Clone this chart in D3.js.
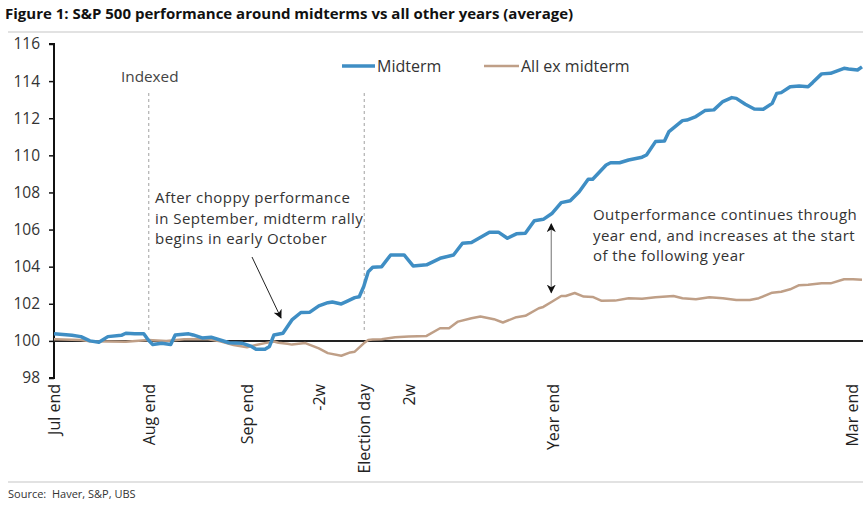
<!DOCTYPE html>
<html><head><meta charset="utf-8">
<script src="https://cdn.jsdelivr.net/npm/d3@7/dist/d3.min.js"></script>
<style>
body{margin:0;background:#fff;}
svg{display:block;font-family:"Open Sans",sans-serif;}
</style></head>
<body><svg id="c" width="863" height="514"></svg>
<script>
// ---- data (x in trading days from end of July) ----
const tickDays   = [0, 21, 43, 59, 69, 79, 111, 180];
const tickLabels = ["Jul end","Aug end","Sep end","-2w","Election day","2w","Year end","Mar end"];
const yTicks = [98,100,102,104,106,108,110,112,114,116];

const midDays = [0,4,6,8,10,12,15,16,18,20,21,22,24,26,27,30,31,33,35,37,39,42,44,45,47,48,49,51,53,55,57,59,61,62,64,65,67,68,69,70,71,73,75,78,80,83,86,89,91,93,97,99,101,103,105,107,109,111,113,115,117,119,120,123,124,126,128,131,132,134,136,137,140,141,143,145,147,149,151,152,154,156,158,160,161,162,164,166,168,169,171,173,176,177,179,180];
const midVals = [100.38,100.30,100.23,100.00,99.93,100.23,100.30,100.41,100.38,100.38,100.05,99.80,99.87,99.80,100.32,100.38,100.32,100.16,100.20,100.05,99.90,99.87,99.70,99.55,99.55,99.70,100.32,100.41,101.13,101.53,101.55,101.89,102.06,102.10,101.99,102.10,102.33,102.38,102.93,103.73,103.97,104.00,104.63,104.63,104.04,104.10,104.45,104.63,105.26,105.30,105.86,105.86,105.53,105.77,105.80,106.48,106.55,106.88,107.45,107.55,108.04,108.71,108.71,109.48,109.60,109.60,109.75,109.90,110.02,110.74,110.77,111.28,111.87,111.90,112.09,112.41,112.45,112.90,113.11,113.07,112.75,112.50,112.48,112.80,113.34,113.38,113.70,113.74,113.70,113.92,114.39,114.42,114.69,114.65,114.60,114.77];

const allDays = [0,6,8,12,16,21,25,29,34,37,40,42,43,45,47,49,50,52,53,56,59,61,64,66,67,69,70,71,73,76,79,83,86,88,90,93,95,98,100,103,105,108,109,111,113,114,116,118,120,122,125,128,131,134,138,140,143,146,149,152,155,157,160,162,164,166,168,171,173,176,178,180];
const allVals = [100.09,100.05,99.98,99.97,99.95,100.05,100.00,100.09,100.10,99.98,99.78,99.70,99.66,99.78,99.88,99.97,99.90,99.85,99.80,99.88,99.60,99.34,99.20,99.38,99.42,99.87,100.05,100.07,100.09,100.20,100.23,100.27,100.68,100.68,101.04,101.22,101.31,101.17,100.99,101.28,101.35,101.76,101.83,102.12,102.42,102.42,102.58,102.39,102.37,102.16,102.17,102.30,102.27,102.35,102.42,102.30,102.25,102.35,102.30,102.20,102.20,102.30,102.60,102.65,102.78,103.00,103.02,103.10,103.10,103.32,103.32,103.29];

const seriesNames = ["Midterm","All ex midterm"];
const colors = ["#3f8ec4","#bf9f87"];
const titleText = "Figure 1: S&P 500 performance around midterms vs all other years (average)";
const sourceText = "Source:  Haver, S&P, UBS";
const note1 = ["After choppy performance","in September, midterm rally","begins in early October"];
const note2 = ["Outperformance continues through","year end, and increases at the start","of the following year"];

// ---- drawing ----
const svg = d3.select("#c");
const x = d3.scaleLinear().domain([0,180]).range([54,862]);
const y = d3.scaleLinear().domain([98,116]).range([378,44]);

svg.append("text").attr("x",5).attr("y",19).attr("font-weight","bold").attr("font-size",15)
  .attr("fill","#111").text(titleText);
svg.append("line").attr("x1",8).attr("x2",863).attr("y1",32).attr("y2",32).attr("stroke","#d9d9d9").attr("stroke-width",1.5);
svg.append("line").attr("x1",8).attr("x2",863).attr("y1",482).attr("y2",482).attr("stroke","#d9d9d9").attr("stroke-width",1.5);
svg.append("text").attr("x",8).attr("y",498).attr("font-size",11).attr("fill","#333").attr("xml:space","preserve").text(sourceText);

// y axis
const ya = svg.append("g").attr("transform","translate(54,0)")
  .call(d3.axisLeft(y).tickValues(yTicks).tickSize(5).tickPadding(9).tickFormat(d3.format("d")));
ya.select(".domain").attr("stroke","#111").attr("stroke-width",2).attr("d","M-5,44H0V378H-5");
ya.selectAll(".tick line").attr("stroke","#111").attr("stroke-width",1.5);
ya.selectAll(".tick text").attr("font-size",15.5).attr("fill","#333").attr("font-family","Open Sans, sans-serif");

// x labels
const xa = svg.append("g").attr("transform","translate(0,384)")
  .call(d3.axisBottom(x).tickValues(tickDays).tickSize(0).tickFormat((d,i)=>tickLabels[i]));
xa.select(".domain").remove();
xa.selectAll(".tick text").attr("font-size",16).attr("fill","#222").attr("font-family","Open Sans, sans-serif")
  .attr("text-anchor","end").attr("transform","rotate(-90)").attr("x",0).attr("y",0).attr("dy","0.36em");
// keep the last label (at the right edge) inside the picture
xa.selectAll(".tick").filter((d,i)=>i===tickDays.length-1).select("text").attr("dy","-0.3em");

// 100 baseline
svg.append("line").attr("x1",x(0)).attr("x2",863).attr("y1",y(100)).attr("y2",y(100)).attr("stroke","#222").attr("stroke-width",2);

// dashed verticals
[21,69].forEach(d=>{
  svg.append("line").attr("x1",x(d)+0.5).attr("x2",x(d)+0.5).attr("y1",93).attr("y2",330)
    .attr("stroke","#a0a0a0").attr("stroke-width",1).attr("stroke-dasharray","3,3");
});
svg.append("text").attr("x",121).attr("y",82).attr("font-size",15.3).attr("fill","#444").text("Indexed");

// lines
const line = d3.line().x(d=>x(d[0])).y(d=>y(d[1]));
const allData = allDays.map((d,i)=>[d,allVals[i]]);
const midData = midDays.map((d,i)=>[d,midVals[i]]);
svg.append("path").datum(allData).attr("d",line).attr("fill","none").attr("stroke",colors[1]).attr("stroke-width",2.5).attr("stroke-linejoin","round");
svg.append("path").datum(midData).attr("d",line).attr("fill","none").attr("stroke",colors[0]).attr("stroke-width",3.5).attr("stroke-linejoin","round");

// legend
const lg = [[342,377],[484,521]];
seriesNames.forEach((n,i)=>{
  svg.append("line").attr("x1",lg[i][0]).attr("x2",lg[i][1]-2).attr("y1",66).attr("y2",66)
    .attr("stroke",colors[i]).attr("stroke-width",i===0?3.5:2.5);
  svg.append("text").attr("x",lg[i][1]).attr("y",72).attr("font-size",16).attr("fill","#333").text(n);
});

// arrow markers
const defs = svg.append("defs");
defs.append("marker").attr("id","ah").attr("viewBox","0 0 10 10").attr("refX",9).attr("refY",5)
  .attr("markerWidth",9).attr("markerHeight",9).attr("markerUnits","userSpaceOnUse").attr("orient","auto-start-reverse")
  .append("path").attr("d","M0,0L10,5L0,10L3,5Z").attr("fill","#111");

// annotation 1
note1.forEach((t,i)=>svg.append("text").attr("x",155).attr("y",203+i*20.5).attr("font-size",15).attr("letter-spacing",0.45).attr("fill","#333").text(t));
svg.append("line").attr("x1",252).attr("y1",257).attr("x2",281).attr("y2",318).attr("stroke","#222").attr("stroke-width",1).attr("marker-end","url(#ah)");

// annotation 2
note2.forEach((t,i)=>svg.append("text").attr("x",593).attr("y",220+i*20.5).attr("font-size",15).attr("letter-spacing",0.45).attr("fill","#333").text(t));
const ax = x(111)-1;
svg.append("line").attr("x1",ax).attr("x2",ax).attr("y1",y(106.3)).attr("y2",y(102.6))
  .attr("stroke","#888").attr("stroke-width",1.2).attr("marker-end","url(#ah)").attr("marker-start","url(#ah)");
</script></body></html>
